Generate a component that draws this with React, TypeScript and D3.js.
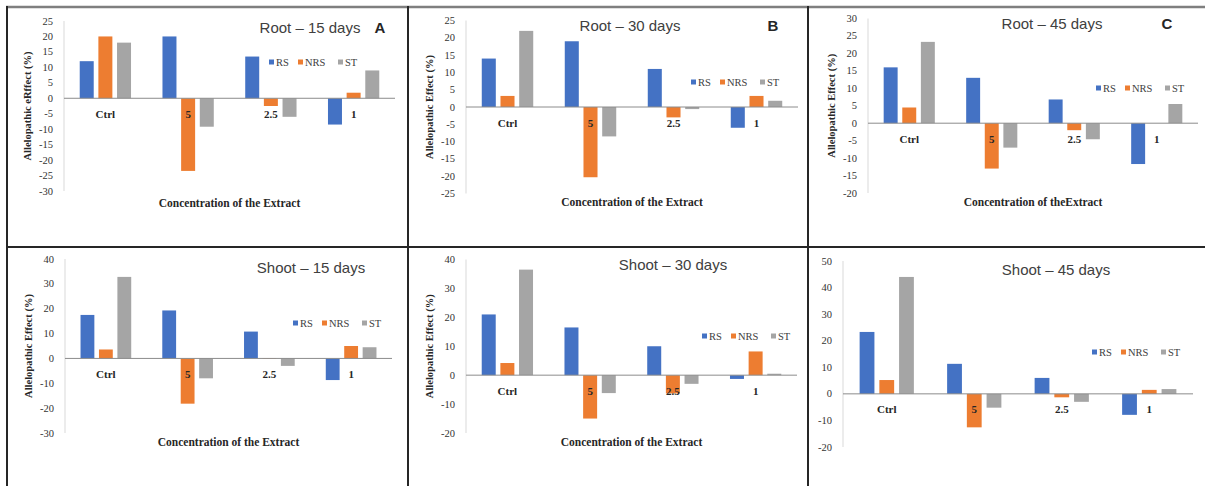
import React from "react";
import * as d3 from "d3";

const categories = ["Ctrl", "5", "2.5", "1"];
const seriesNames = ["RS", "NRS", "ST"];
const seriesColors = ["#4472C4", "#ED7D31", "#A5A5A5"];

// values per series (rows: RS, NRS, ST; columns: Ctrl, 5, 2.5, 1)
const root15RS = [12, 20, 13.5, -8.5];
const root15NRS = [20, -23.5, -2.5, 1.8];
const root15ST = [18, -9.2, -6, 9];

const root30RS = [14, 19, 11, -6];
const root30NRS = [3.2, -20.3, -3, 3.2];
const root30ST = [22, -8.5, -0.6, 1.8];

const root45RS = [16, 13, 6.8, -11.7];
const root45NRS = [4.5, -13, -2, 0];
const root45ST = [23.3, -7, -4.6, 5.5];

const shoot15RS = [17.5, 19.3, 10.8, -8.7];
const shoot15NRS = [3.6, -18.2, -0.2, 5];
const shoot15ST = [32.8, -8, -3, 4.5];

const shoot30RS = [21, 16.5, 10, -1.3];
const shoot30NRS = [4.2, -15, -6.3, 8.2];
const shoot30ST = [36.5, -6.2, -3, 0.5];

const shoot45RS = [23.3, 11.3, 6, -7.9];
const shoot45NRS = [5.2, -12.6, -1.3, 1.5];
const shoot45ST = [44, -5.2, -3, 1.8];

const root15Ticks = [25, 20, 15, 10, 5, 0, -5, -10, -15, -20, -25, -30];
const root30Ticks = [25, 20, 15, 10, 5, 0, -5, -10, -15, -20, -25];
const root45Ticks = [30, 25, 20, 15, 10, 5, 0, -5, -10, -15, -20];
const shoot15Ticks = [40, 30, 20, 10, 0, -10, -20, -30];
const shoot30Ticks = [40, 30, 20, 10, 0, -10, -20];
const shoot45Ticks = [50, 40, 30, 20, 10, 0, -10, -20];

const panelTitles = ["Root – 15 days", "Root – 30 days", "Root – 45 days", "Shoot – 15 days", "Shoot – 30 days", "Shoot – 45 days"];
const panelLetters = ["A", "B", "C", "", "", ""];
const yLabels = ["Allelopathic eRffect (%)", "Allelopathic Effect (%)", "Allelopathic Effect (%)", "Allelopathic Effect (%)", "Allelopathic Effect (%)", ""];
const xTitles = ["Concentration of the Extract", "Concentration of the Extract", "Concentration of theExtract", "Concentration of the Extract", "Concentration of the Extract", ""];

const panelValues = [
  [root15RS, root15NRS, root15ST],
  [root30RS, root30NRS, root30ST],
  [root45RS, root45NRS, root45ST],
  [shoot15RS, shoot15NRS, shoot15ST],
  [shoot30RS, shoot30NRS, shoot30ST],
  [shoot45RS, shoot45NRS, shoot45ST],
];
const panelTicks = [root15Ticks, root30Ticks, root45Ticks, shoot15Ticks, shoot30Ticks, shoot45Ticks];

// layout (pixel positions)
const layouts = [
  { x0: 64, x1: 395, yTop: 21, yBottom: 191, titleX: 310, titleY: 27, letterX: 380, legendX: 269, legendY: 62, xTitleY: 203 },
  { x0: 466, x1: 798, yTop: 20.5, yBottom: 193.5, titleX: 630, titleY: 25, letterX: 773, legendX: 691, legendY: 82, xTitleY: 202 },
  { x0: 868, x1: 1198, yTop: 18.5, yBottom: 193, titleX: 1052, titleY: 23, letterX: 1167, legendX: 1096, legendY: 88, xTitleY: 202 },
  { x0: 65, x1: 392, yTop: 259, yBottom: 433, titleX: 311, titleY: 267, letterX: 0, legendX: 293, legendY: 323, xTitleY: 442 },
  { x0: 466, x1: 797, yTop: 259.5, yBottom: 433, titleX: 673, titleY: 264, letterX: 0, legendX: 702, legendY: 336, xTitleY: 442 },
  { x0: 843, x1: 1193, yTop: 261, yBottom: 447, titleX: 1056, titleY: 269, letterX: 0, legendX: 1092, legendY: 352, xTitleY: 458 },
];
const legendOffsets = [0, 29, 69];

const SERIF = "'Liberation Serif', 'DejaVu Serif', serif";
const SANS = "'Liberation Sans', Arial, sans-serif";

function Panel({ idx }: { idx: number }) {
  const L = layouts[idx];
  const values = panelValues[idx];
  const ticks = panelTicks[idx];
  const y = d3.scaleLinear().domain([ticks[ticks.length - 1], ticks[0]]).range([L.yBottom, L.yTop]);
  const x0 = d3.scaleBand<string>().domain(categories).range([L.x0, L.x1]).paddingInner(0.38).paddingOuter(0.19);
  const x1 = d3.scaleBand<string>().domain(seriesNames).range([0, x0.bandwidth()]).paddingInner(0.25).paddingOuter(0);
  const zeroY = y(0);
  return (
    <g>
      {/* y axis line */}
      <line x1={L.x0} x2={L.x0} y1={L.yTop} y2={L.yBottom} stroke="#d9d9d9" strokeWidth={1} />
      {ticks.map((t) => (
        <text key={t} x={L.x0 - 11} y={y(t)} textAnchor="end" dominantBaseline="central" fontFamily={SERIF} fontSize={10.5} fill="#333">
          {String(t)}
        </text>
      ))}
      {/* bars */}
      {seriesNames.map((s, si) =>
        categories.map((c, ci) => {
          const v = values[si][ci];
          const yv = y(v);
          return (
            <rect
              key={s + c}
              x={(x0(c) as number) + (x1(s) as number)}
              y={Math.min(yv, zeroY)}
              width={x1.bandwidth()}
              height={Math.abs(yv - zeroY)}
              fill={seriesColors[si]}
            />
          );
        })
      )}
      {/* zero line */}
      <line x1={L.x0} x2={L.x1} y1={zeroY} y2={zeroY} stroke="#8c8c8c" strokeWidth={1} />
      {categories.map((c) => (
        <text key={c} x={(x0(c) as number) + x0.bandwidth() / 2} y={zeroY + 15.5} textAnchor="middle" dominantBaseline="central" fontFamily={SERIF} fontWeight="bold" fontSize={11} fill="#262626">
          {c}
        </text>
      ))}
      {/* title */}
      <text x={L.titleX} y={L.titleY} textAnchor="middle" dominantBaseline="central" fontFamily={SANS} fontSize={15} fill="#404040">
        {panelTitles[idx]}
      </text>
      {panelLetters[idx] && (
        <text x={L.letterX} y={L.titleY} textAnchor="middle" dominantBaseline="central" fontFamily={SANS} fontWeight="bold" fontSize={15} fill="#262626">
          {panelLetters[idx]}
        </text>
      )}
      {/* legend */}
      {seriesNames.map((s, si) => (
        <g key={s} transform={`translate(${L.legendX + legendOffsets[si]},${L.legendY})`}>
          <rect x={0} y={-2.5} width={5} height={5} fill={seriesColors[si]} />
          <text x={7} y={0} dominantBaseline="central" fontFamily={SERIF} fontSize={10.5} fill="#404040">
            {s}
          </text>
        </g>
      ))}
      {/* axis titles */}
      {yLabels[idx] && (
        <text
          transform={`translate(${L.x0 - 37},${(L.yTop + L.yBottom) / 2}) rotate(-90)`}
          textAnchor="middle"
          dominantBaseline="central"
          fontFamily={SERIF}
          fontWeight="bold"
          fontSize={10.5}
          fill="#262626"
        >
          {yLabels[idx]}
        </text>
      )}
      {xTitles[idx] && (
        <text x={(L.x0 + L.x1) / 2} y={L.xTitleY} textAnchor="middle" dominantBaseline="central" fontFamily={SERIF} fontWeight="bold" fontSize={11.5} fill="#262626">
          {xTitles[idx]}
        </text>
      )}
    </g>
  );
}

export default function App() {
  return (
    <div style={{ position: "absolute", left: 0, top: 0 }}>
      <svg width={1205} height={486} style={{ display: "block", background: "#fff" }}>
        <rect x={0} y={0} width={1205} height={486} fill="#fff" />
        {panelValues.map((_, i) => (
          <Panel key={i} idx={i} />
        ))}
        {/* frame */}
        <line x1={6} x2={1205} y1={7} y2={7} stroke="#7f7f7f" strokeWidth={2.5} />
        <line x1={7} x2={7} y1={6} y2={486} stroke="#262626" strokeWidth={2} />
        <line x1={408} x2={408} y1={6} y2={486} stroke="#262626" strokeWidth={2} />
        <line x1={808} x2={808} y1={6} y2={486} stroke="#262626" strokeWidth={2} />
        <line x1={6} x2={1205} y1={247} y2={247} stroke="#262626" strokeWidth={2} />
      </svg>
    </div>
  );
}
